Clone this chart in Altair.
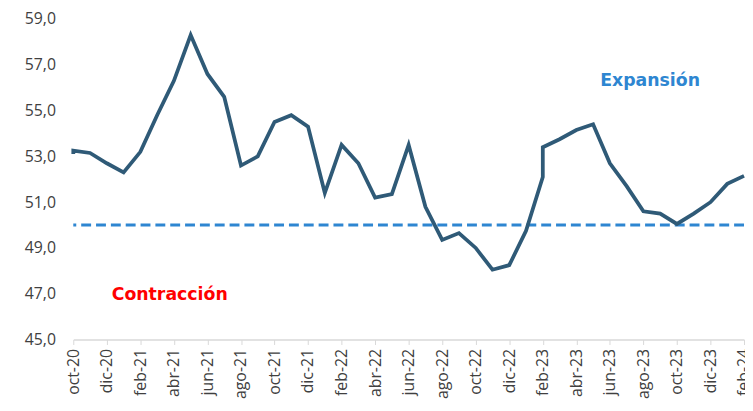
import altair as alt
import pandas as pd

month_labels = [
    "oct-20", "nov-20", "dic-20", "ene-21", "feb-21", "mar-21", "abr-21", "may-21",
    "jun-21", "jul-21", "ago-21", "sep-21", "oct-21", "nov-21", "dic-21", "ene-22",
    "feb-22", "mar-22", "abr-22", "may-22", "jun-22", "jul-22", "ago-22", "sep-22",
    "oct-22", "nov-22", "dic-22", "ene-23", "feb-23", "mar-23", "abr-23", "may-23",
    "jun-23", "jul-23", "ago-23", "sep-23", "oct-23", "nov-23", "dic-23", "ene-24",
    "feb-24",
]

point_months = [
    "oct-20", "oct-20", "nov-20", "dic-20", "ene-21", "feb-21", "mar-21", "abr-21",
    "may-21", "jun-21", "jul-21", "ago-21", "sep-21", "oct-21", "nov-21", "dic-21",
    "ene-22", "feb-22", "mar-22", "abr-22", "may-22", "jun-22", "jul-22", "ago-22",
    "sep-22", "oct-22", "nov-22", "dic-22", "ene-23", "feb-23", "feb-23", "mar-23",
    "abr-23", "may-23", "jun-23", "jul-23", "ago-23", "sep-23", "oct-23", "nov-23",
    "dic-23", "ene-24", "feb-24",
]
point_values = [
    53.1, 53.25, 53.15, 52.7, 52.3, 53.2, 54.8, 56.3,
    58.3, 56.6, 55.6, 52.6, 53.0, 54.5, 54.8, 54.3,
    51.4, 53.5, 52.7, 51.2, 51.35, 53.5, 50.8, 49.35,
    49.65, 49.0, 48.05, 48.25, 49.75, 52.1, 53.4, 53.75,
    54.15, 54.4, 52.7, 51.7, 50.6, 50.5, 50.05, 50.5,
    51.0, 51.8, 52.15,
]

threshold = [50.0]
y_ticks = [45, 47, 49, 51, 53, 55, 57, 59]
x_ticks = list(range(0, len(month_labels), 2))

ann_text = ["Expansión", "Contracción"]
ann_month = ["oct-23", "mar-21"]
ann_offset = [-1.6, 0.75]
ann_value = [56.3, 46.95]
ann_color = ["#2e86d1", "#ff0000"]

df = pd.DataFrame({
    "order": list(range(len(point_values))),
    "idx": [month_labels.index(m) for m in point_months],
    "value": point_values,
})

ann = pd.DataFrame({
    "text": ann_text,
    "idx": [month_labels.index(m) + o for m, o in zip(ann_month, ann_offset)],
    "value": ann_value,
    "color": ann_color,
})

label_array = "[" + ",".join("'" + m + "'" for m in month_labels) + "]"

x_scale = alt.Scale(domain=[0, len(month_labels) - 1], nice=False, zero=False)
y_scale = alt.Scale(domain=[45, 59], nice=False, zero=False)

line = alt.Chart(df).mark_line(color="#2f5a77", strokeWidth=3.8, strokeJoin="miter").encode(
    x=alt.X("idx:Q", scale=x_scale, axis=alt.Axis(
        values=x_ticks,
        tickCount=len(month_labels) + 5,
        labelExpr=label_array + "[datum.value]",
        labelAngle=-90,
        labelFont="Open Sans",
        labelFontSize=16,
        labelColor="#404040",
        labelPadding=4,
        domainColor="#d9d9d9",
        domainWidth=1.5,
        tickColor="#d9d9d9",
        tickSize=5,
        grid=False,
        title=None,
        labelOverlap=False,
    )),
    y=alt.Y("value:Q", scale=y_scale, axis=alt.Axis(
        values=y_ticks,
        labelExpr="replace(format(datum.value, '.1f'), '.', ',')",
        labelFont="Open Sans",
        labelFontSize=16,
        labelColor="#404040",
        labelPadding=18,
        domain=False,
        ticks=False,
        grid=False,
        title=None,
    )),
    order="order:Q",
)

rule = alt.Chart(pd.DataFrame({"v": threshold})).mark_rule(
    color="#2e86d1", strokeWidth=3, strokeDash=[10, 5]
).encode(y=alt.Y("v:Q", scale=y_scale))

texts = alt.Chart(ann).mark_text(
    font="DejaVu Sans", fontWeight="bold", fontSize=17.5, align="center", baseline="middle"
).encode(
    x=alt.X("idx:Q", scale=x_scale),
    y=alt.Y("value:Q", scale=y_scale),
    text="text:N",
    color=alt.Color("color:N", scale=None),
)

chart = alt.layer(rule, line, texts).properties(
    width=678,
    height=324,
    padding={"left": 66, "top": 9, "right": 1, "bottom": 62},
    autosize="none",
).configure_view(stroke=None)

chart.save("out.html", embed_options={"renderer": "svg", "actions": False})
